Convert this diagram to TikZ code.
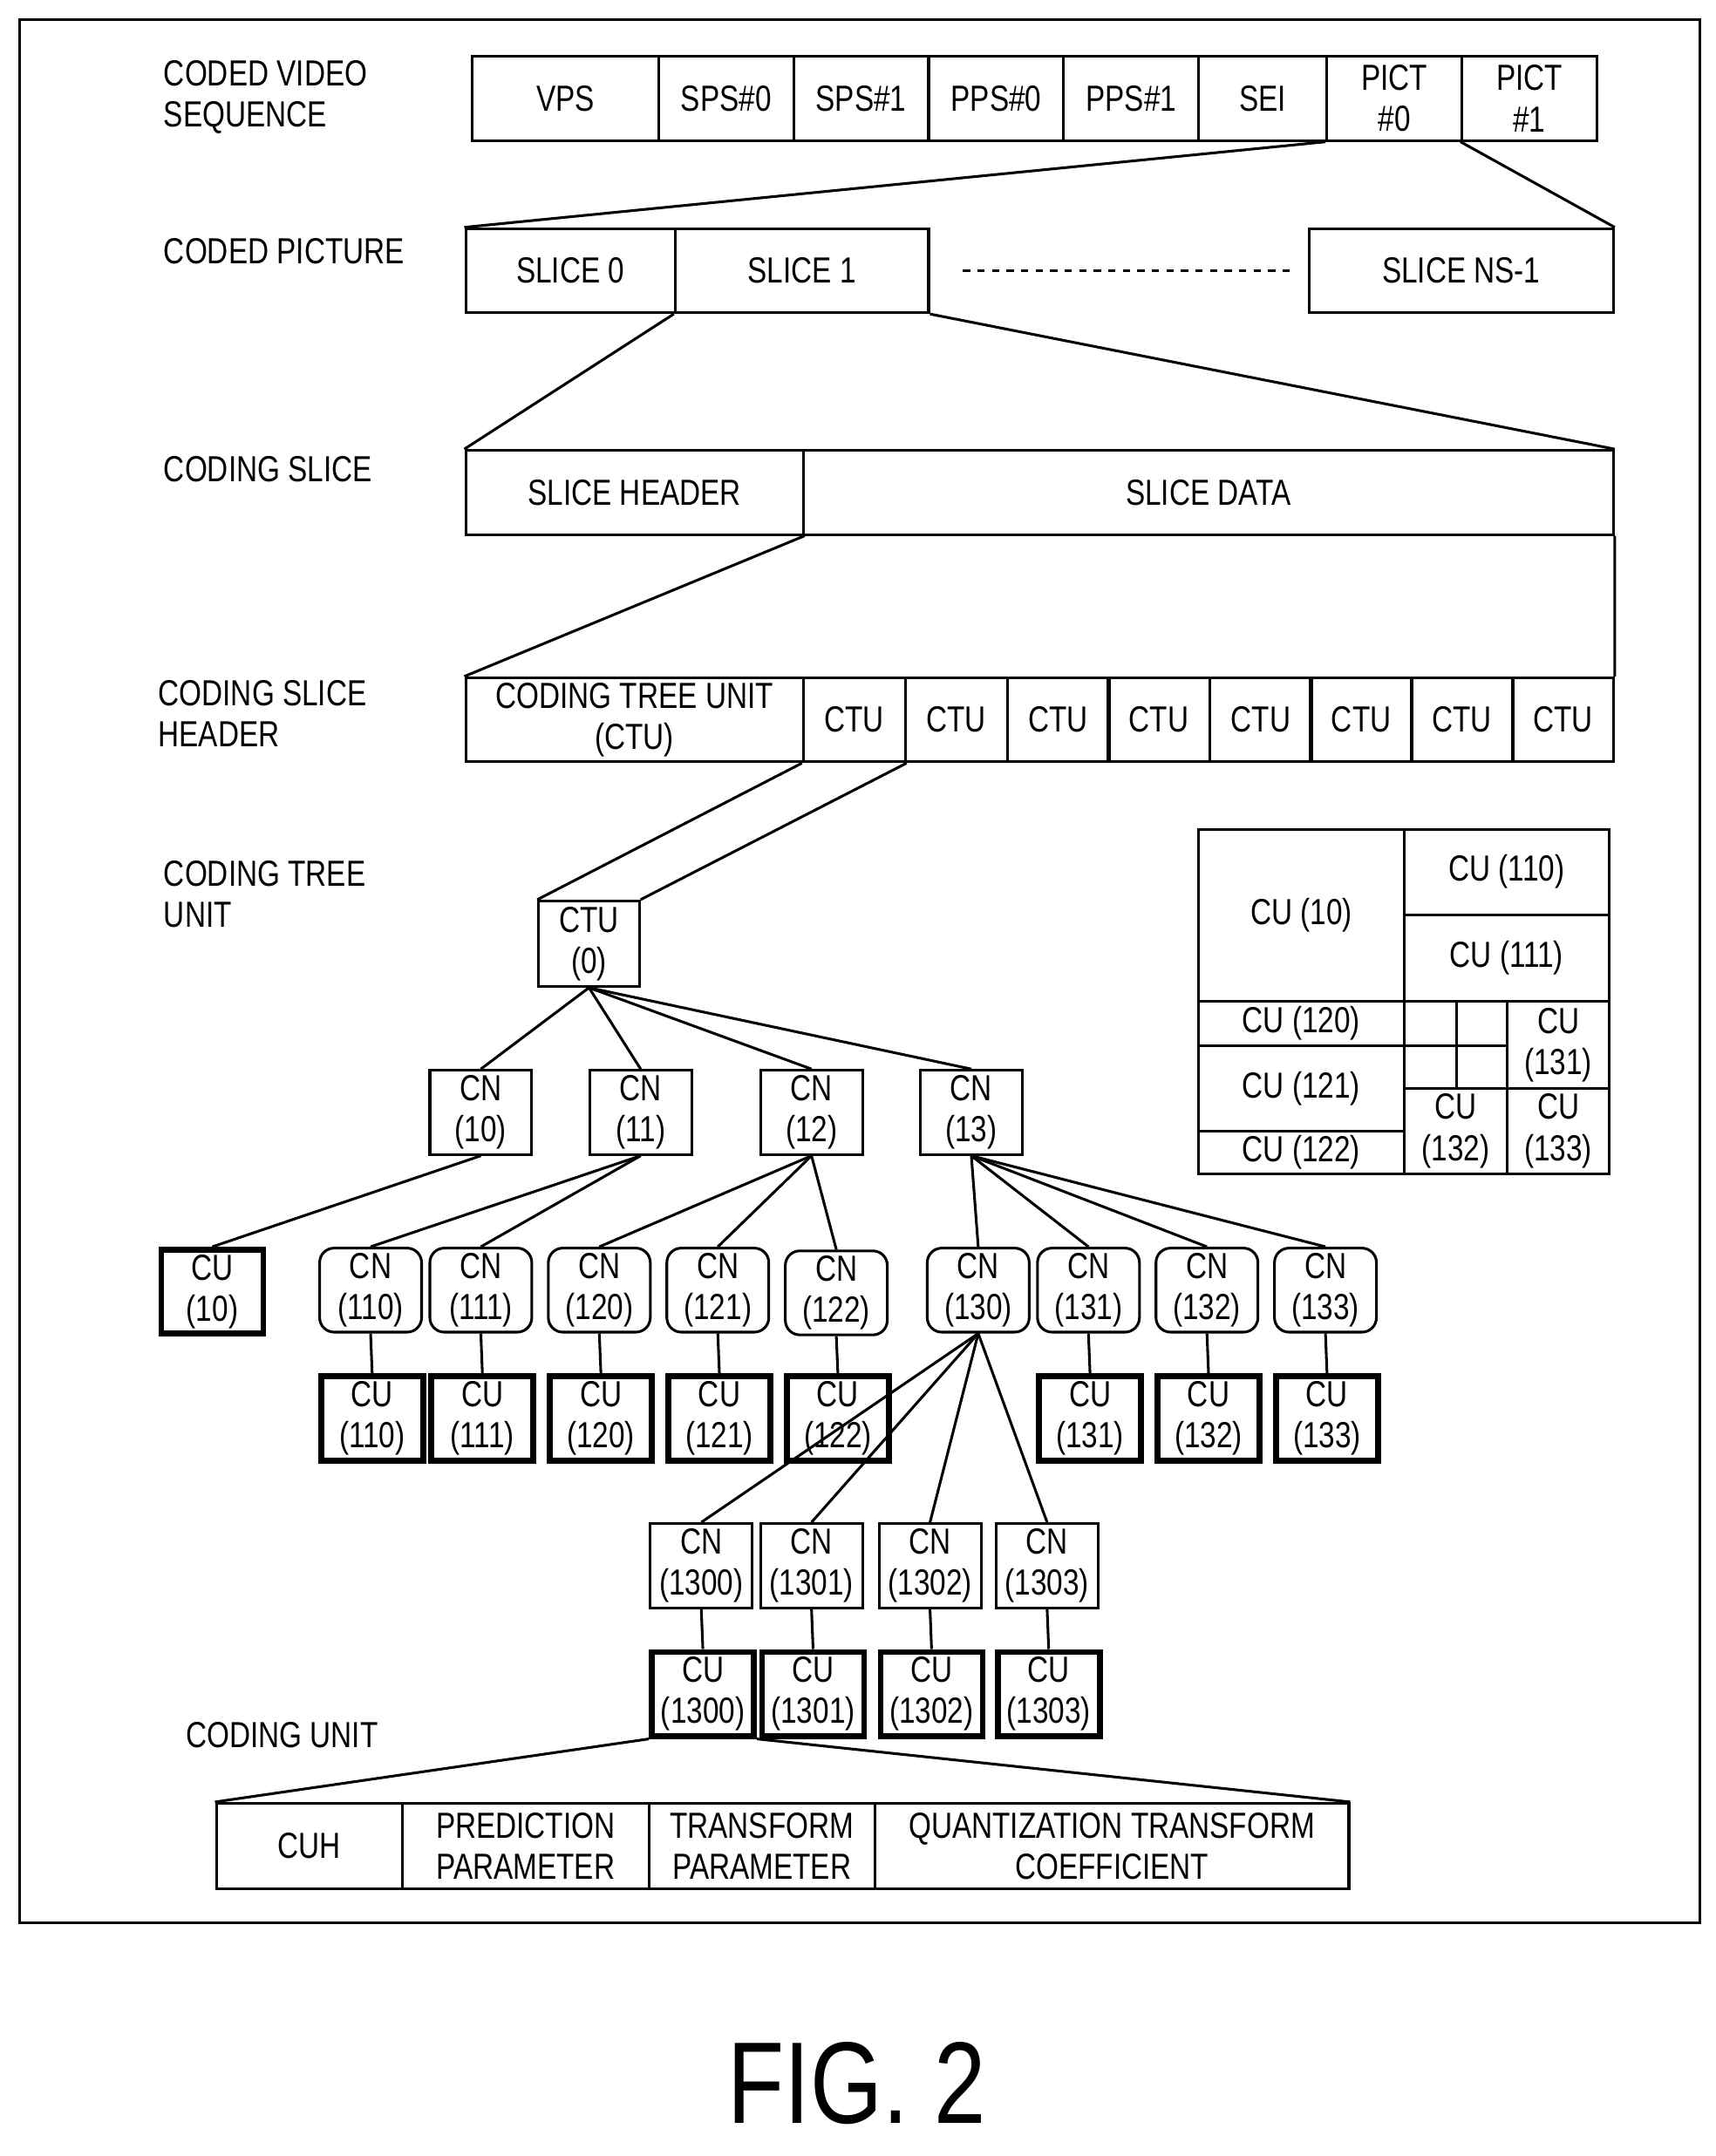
\documentclass[tikz,border=0pt]{standalone}
\usepackage{fontspec}
\setmainfont{Liberation Sans}[FakeStretch=0.8]
\usetikzlibrary{positioning}
\newcommand{\fs}{\fontsize{15pt}{17pt}\selectfont}
\begin{document}
\begin{tikzpicture}[x=0.02cm, y=-0.02cm, line width=1.1pt,
    box/.style 2 args={draw, anchor=north west, minimum width=#1*0.02cm, minimum height=#2*0.02cm, inner sep=0pt, align=center, font=\fs},
    cn/.style={box={74}{61}, rounded corners=6pt},
    cu/.style={box={74}{61}, line width=2.4pt},
    tn/.style={box={74}{61}},
    lbl/.style={anchor=north west, align=left, inner sep=0pt, font=\fs}
]
    \useasboundingbox (0,0) rectangle (1245,1565);
    \node[box={1220}{1382}] (frame) at (13,13) {};

    % Labels
    \node[lbl] (lvs) at (118,43) {CODED VIDEO\\SEQUENCE};
    \node[lbl] (lpic) at (118,172) {CODED PICTURE};
    \node[lbl] (lsl) at (118,330) {CODING SLICE};
    \node[lbl] (lsh) at (114,493) {CODING SLICE\\HEADER};
    \node[lbl] (ltu) at (118,624) {CODING TREE\\UNIT};
    \node[lbl] (lcu) at (134,1249) {CODING UNIT};

    % Coded video sequence
    \node[box={135}{61}] (vps) at (342,40) {VPS};
    \node[box={98}{61}] (sps0) at (477,40) {SPS\#0};
    \node[box={98}{61}] (sps1) at (575,40) {SPS\#1};
    \node[box={98}{61}] (pps0) at (673,40) {PPS\#0};
    \node[box={98}{61}] (pps1) at (771,40) {PPS\#1};
    \node[box={93}{61}] (sei) at (869,40) {SEI};
    \node[box={98}{61}] (pict0) at (962,40) {PICT\\\#0};
    \node[box={98}{61}] (pict1) at (1060,40) {PICT\\\#1};

    % Coded picture
    \node[box={152}{61}] (slice0) at (337,165) {SLICE 0};
    \node[box={184}{61}] (slice1) at (489,165) {SLICE 1};
    \node[box={221}{61}] (slicen) at (949,165) {SLICE NS-1};
    \draw[dashed] (slice1.east) ++(24,0) -- ([xshift=-0.2cm]slicen.west);
    \draw (pict0.south west) -- (slice0.north west);
    \draw (pict1.south west) -- (slicen.north east);

    % Coding slice
    \node[box={245}{61}] (shead) at (337,326) {SLICE HEADER};
    \node[box={588}{61}] (sdata) at (582,326) {SLICE DATA};
    \draw (slice1.south west) -- (shead.north west);
    \draw (slice1.south east) -- (sdata.north east);

    % Coding slice header
    \node[box={245}{61}] (ctuh) at (337,491) {CODING TREE UNIT\\(CTU)};
    \foreach \i/\x in {1/582,2/656,3/730,4/803,5/877,6/950,7/1023,8/1097}
        \node[box={\ifnum\i<8 74\else 73\fi}{61}] (ctu\i) at (\x,491) {CTU};
    \draw (shead.south east) -- (ctuh.north west);
    \draw (sdata.south east) -- (ctu8.north east);

    % Coding tree unit
    \node[box={73}{62}] (ctu0) at (390,653) {CTU\\(0)};
    \draw (ctu1.south west) -- (ctu0.north west);
    \draw (ctu1.south east) -- (ctu0.north east);
    \node[tn] (cn10) at (311,776) {CN\\(10)};
    \node[tn] (cn11) at (427,776) {CN\\(11)};
    \node[tn] (cn12) at (551,776) {CN\\(12)};
    \node[tn] (cn13) at (667,776) {CN\\(13)};
    \foreach \n in {cn10,cn11,cn12,cn13}
        \draw (ctu0.south) -- (\n.north);

    \node[cu] (cu10) at (115,905) {CU\\(10)};
    \node[cn] (cn110) at (231,905) {CN\\(110)};
    \node[cn] (cn111) at (311,905) {CN\\(111)};
    \node[cn] (cn120) at (397,905) {CN\\(120)};
    \node[cn] (cn121) at (483,905) {CN\\(121)};
    \node[cn] (cn122) at (569,907) {CN\\(122)};
    \node[cn] (cn130) at (672,905) {CN\\(130)};
    \node[cn] (cn131) at (752,905) {CN\\(131)};
    \node[cn] (cn132) at (838,905) {CN\\(132)};
    \node[cn] (cn133) at (924,905) {CN\\(133)};
    \draw (cn10.south) -- (cu10.north);
    \foreach \n in {cn110,cn111} \draw (cn11.south) -- (\n.north);
    \foreach \n in {cn120,cn121,cn122} \draw (cn12.south) -- (\n.north);
    \foreach \n in {cn130,cn131,cn132,cn133} \draw (cn13.south) -- (\n.north);

    \foreach \n/\x in {110/231,111/311,120/397,121/483,122/569,131/752,132/838,133/924} {
        \node[cu] (cu\n) at (\x,997) {CU\\(\n)};
        \draw (cn\n.south) -- (cu\n.north);
    }

    \foreach \n/\x in {1300/471,1301/551,1302/637,1303/722} {
        \node[tn] (cn\n) at (\x,1105) {CN\\(\n)};
        \node[cu] (cu\n) at (\x,1197) {CU\\(\n)};
        \draw (cn130.south) -- (cn\n.north);
        \draw (cn\n.south) -- (cu\n.north);
    }

    % Coding unit
    \node[box={135}{62}] (cuh) at (156,1308) {CUH};
    \node[box={179}{62}] (ppar) at (291,1308) {PREDICTION\\PARAMETER};
    \node[box={164}{62}] (tpar) at (470,1308) {TRANSFORM\\PARAMETER};
    \node[box={344}{62}] (qcoef) at (634,1308) {QUANTIZATION TRANSFORM\\COEFFICIENT};
    \draw (cu1300.south west) -- (cuh.north west);
    \draw (cu1300.south east) -- (qcoef.north east);

    % CU partition
    \node[box={149}{125}] (g10) at (869,601) {CU (10)};
    \node[box={149}{62}] (g110) at (1018,601) {CU (110)};
    \node[box={149}{63}] (g111) at (1018,663) {CU (111)};
    \node[box={149}{32}] (g120) at (869,726) {CU (120)};
    \node[box={149}{62}] (g121) at (869,758) {CU (121)};
    \node[box={149}{31}] (g122) at (869,820) {CU (122)};
    \node[box={38}{32}] (ga) at (1018,726) {};
    \node[box={37}{32}] (gb) at (1056,726) {};
    \node[box={38}{31}] (gc) at (1018,758) {};
    \node[box={37}{31}] (gd) at (1056,758) {};
    \node[box={75}{62}] (g132) at (1018,789) {CU\\(132)};
    \node[box={74}{63}] (g131) at (1093,726) {CU\\(131)};
    \node[box={74}{62}] (g133) at (1093,789) {CU\\(133)};

    \node[font=\fontsize{48pt}{52pt}\selectfont, inner sep=0pt] (fig) at (622,1512) {FIG. 2};
\end{tikzpicture}
\end{document}
